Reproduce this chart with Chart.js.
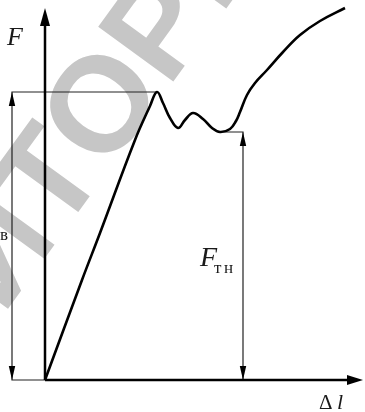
<!DOCTYPE html>
<html>
<head>
<meta charset="utf-8">
<script src="https://cdn.jsdelivr.net/npm/chart.js@4/dist/chart.umd.min.js"></script>
<style>
  html, body { margin: 0; padding: 0; background: #fff; }
</style>
</head>
<body>
<canvas id="myChart" width="365" height="412"></canvas>
<script>
// load-elongation curve F(Δl) (10 px = 1 unit)
const curveDl = [0, 3.7, 5.5, 9.0, 10.5, 11.2, 11.8, 12.5, 13.3, 14.0, 14.8, 15.8, 16.7, 17.5, 18.5, 19.1, 19.5, 20.2, 21.0, 22.2, 23.8, 25.5, 27.5, 30.0];
const curveF  = [0, 10.0, 14.7, 24.0, 27.4, 28.8, 27.7, 26.2, 25.2, 26.0, 26.7, 26.1, 25.2, 24.8, 25.1, 25.9, 26.8, 28.5, 29.7, 31.0, 32.8, 34.5, 35.9, 37.2];

// axis ends
const axisEndDl = 31.8;
const axisEndF = 37.2;

// F_в (peak) and F_тн (yield) with their dimension lines
const peakDl = 11.2, peakF = 28.8;
const yieldDl = 17.5, yieldF = 24.8;
const dimLeftDl = -3.3;
const dimRightDl = 19.8;

const watermarkText = "РЕПОЗИТОРИЙ";

function pts(xs, ys) {
  return xs.map(function(x, i) { return { x: x, y: ys[i] }; });
}

// helper: data -> pixel through the chart scales
function px(chart, x, y) {
  return [chart.scales.x.getPixelForValue(x), chart.scales.y.getPixelForValue(y)];
}

const watermark = {
  id: 'watermark',
  beforeDatasetsDraw(chart) {
    const ctx = chart.ctx;
    const size = 135;
    ctx.save();
    ctx.font = 'bold ' + size + 'px "Liberation Sans", Arial, sans-serif';
    ctx.fillStyle = '#c6c6c6';
    ctx.textAlign = 'left';
    ctx.textBaseline = 'alphabetic';
    // centre the second "О" roughly where it sits in the picture
    const lead = ctx.measureText('РЕПОЗИТ').width + ctx.measureText('О').width / 2;
    ctx.translate(100, 100);
    ctx.rotate(-54 * Math.PI / 180);
    ctx.fillText(watermarkText, -lead, size * 0.716 / 2);
    ctx.restore();
  }
};

// arrow heads at the ends of axes and dimension lines
const arrows = {
  id: 'arrows',
  afterDatasetsDraw(chart) {
    const ctx = chart.ctx;
    const list = [
      { x: 0, y: axisEndF, dir: 'up', len: 18, half: 5 },
      { x: axisEndDl, y: 0, dir: 'right', len: 16, half: 5 },
      { x: dimLeftDl, y: peakF, dir: 'up', len: 14, half: 3.2 },
      { x: dimLeftDl, y: 0, dir: 'down', len: 14, half: 3.2 },
      { x: dimRightDl, y: yieldF, dir: 'up', len: 14, half: 3.2 },
      { x: dimRightDl, y: 0, dir: 'down', len: 14, half: 3.2 }
    ];
    ctx.save();
    ctx.fillStyle = '#000';
    list.forEach(function(a) {
      const p = px(chart, a.x, a.y);
      const tx = p[0], ty = p[1];
      ctx.beginPath();
      if (a.dir === 'up') {
        ctx.moveTo(tx, ty);
        ctx.lineTo(tx - a.half, ty + a.len);
        ctx.lineTo(tx + a.half, ty + a.len);
      } else if (a.dir === 'down') {
        ctx.moveTo(tx, ty);
        ctx.lineTo(tx - a.half, ty - a.len);
        ctx.lineTo(tx + a.half, ty - a.len);
      } else {
        ctx.moveTo(tx, ty);
        ctx.lineTo(tx - a.len, ty - a.half);
        ctx.lineTo(tx - a.len, ty + a.half);
      }
      ctx.closePath();
      ctx.fill();
    });
    ctx.restore();
  }
};

// axis and force labels
const labels = {
  id: 'labels',
  afterDraw(chart) {
    const ctx = chart.ctx;
    ctx.save();
    ctx.fillStyle = '#1a1a1a';
    ctx.textBaseline = 'alphabetic';
    ctx.textAlign = 'left';

    ctx.font = 'italic 26px "Liberation Serif", serif';
    ctx.fillText('F', 7, 45);

    ctx.font = 'italic 28px "Liberation Serif", serif';
    ctx.fillText('F', 200, 266);
    ctx.font = '17px "Liberation Serif", serif';
    ctx.fillText('т', 214, 273);
    ctx.fillText('н', 224, 273);

    ctx.textAlign = 'right';
    ctx.fillText('в', 8, 240);

    ctx.textAlign = 'left';
    ctx.font = '21px "Liberation Serif", serif';
    ctx.fillText('Δ', 319, 409);
    ctx.font = 'italic 22px "Liberation Serif", serif';
    ctx.fillText('l', 337, 409);
    ctx.restore();
  }
};

const data = {
  datasets: [
    {
      label: 'F(Δl)',
      data: pts(curveDl, curveF),
      borderColor: '#000',
      borderWidth: 2.6,
      tension: 0.4
    },
    {
      label: 'F axis',
      data: [{ x: 0, y: 0 }, { x: 0, y: axisEndF - 1 }],
      borderColor: '#000',
      borderWidth: 2.5
    },
    {
      label: 'Δl axis',
      data: [{ x: 0, y: 0 }, { x: axisEndDl - 1, y: 0 }],
      borderColor: '#000',
      borderWidth: 2.5
    },
    {
      label: 'F_в',
      data: [{ x: 0, y: 0 }, { x: dimLeftDl, y: 0 }, { x: dimLeftDl, y: peakF }, { x: peakDl, y: peakF }],
      borderColor: '#222',
      borderWidth: 1.2
    },
    {
      label: 'F_тн',
      data: [{ x: yieldDl, y: yieldF }, { x: dimRightDl, y: yieldF }, { x: dimRightDl, y: 0 }],
      borderColor: '#222',
      borderWidth: 1.2
    }
  ]
};

const config = {
  type: 'line',
  data: data,
  options: {
    responsive: false,
    animation: false,
    elements: { point: { radius: 0 }, line: { tension: 0 } },
    datasets: { line: { clip: false } },
    layout: { padding: 0 },
    plugins: { legend: { display: false }, tooltip: { enabled: false } },
    scales: {
      x: { type: 'linear', min: -4.5, max: 32, display: false },
      y: { type: 'linear', min: -3.2, max: 38, display: false }
    }
  },
  plugins: [watermark, arrows, labels]
};

const myChart = new Chart(document.getElementById('myChart'), config);
</script>
</body>
</html>
